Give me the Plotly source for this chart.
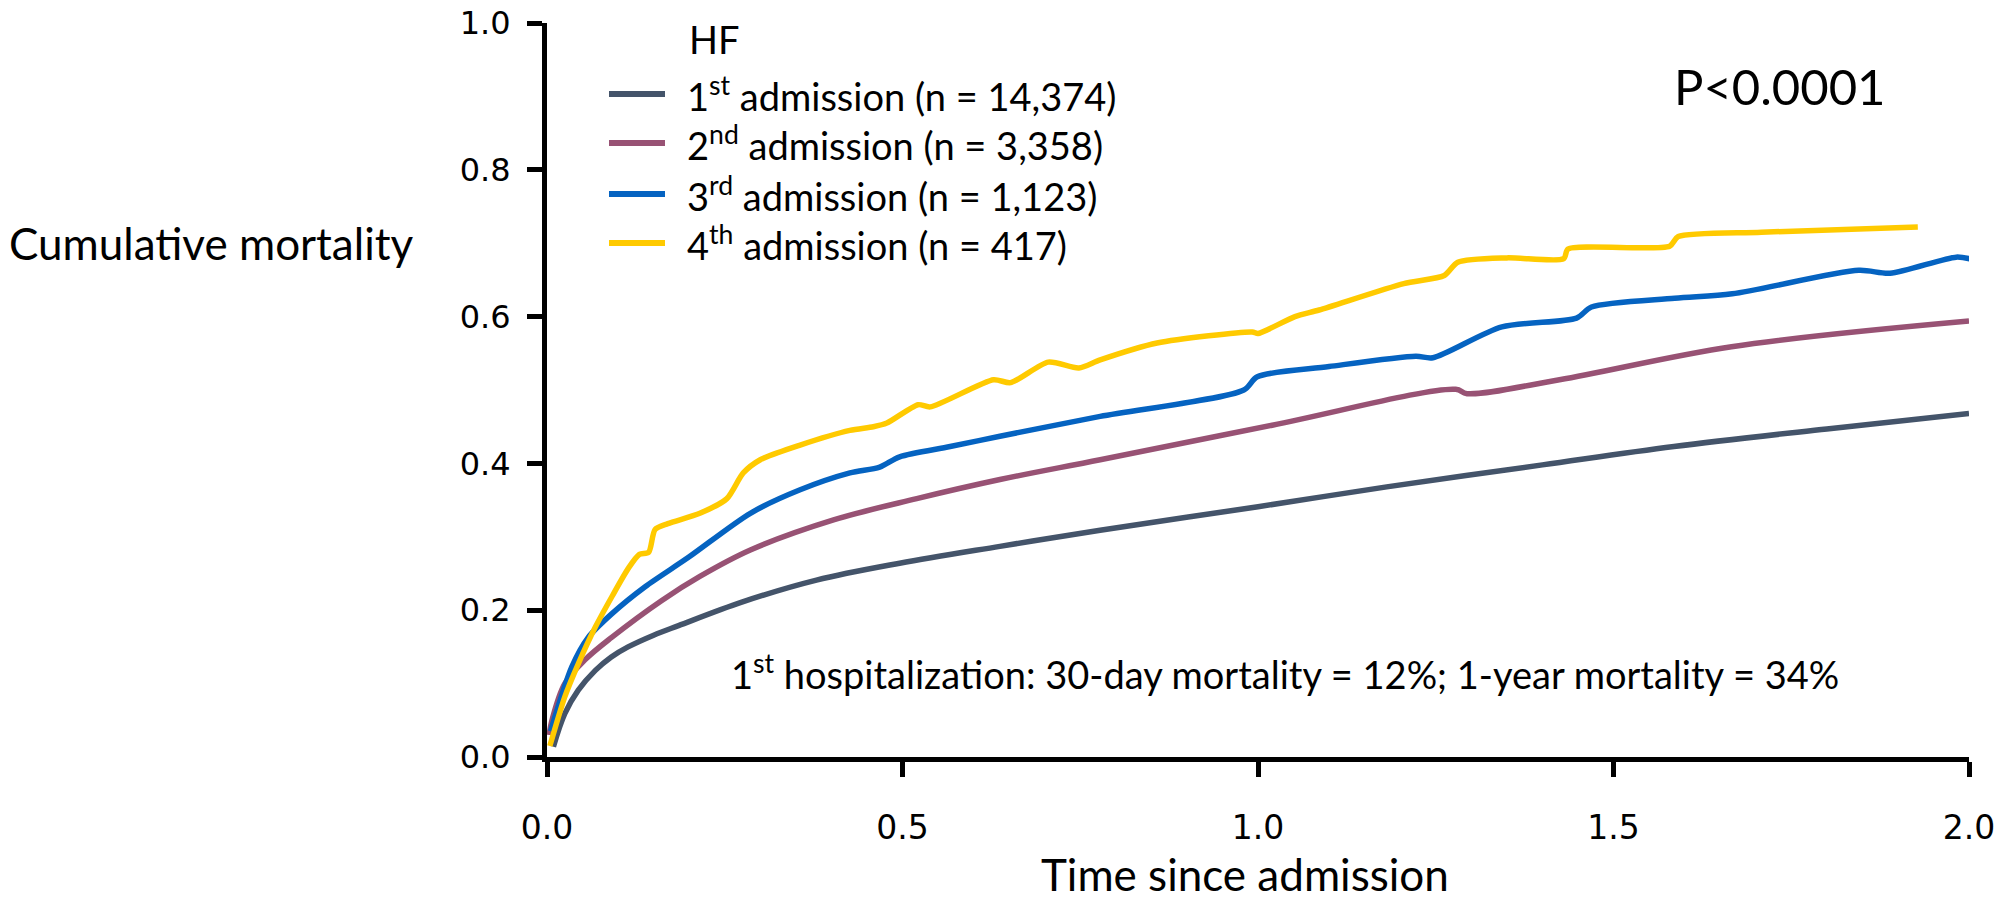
import plotly.graph_objects as go

# ---- data ----
names = ["1<sup>st</sup> admission (n = 14,374)",
         "2<sup>nd</sup> admission (n = 3,358)",
         "3<sup>rd</sup> admission (n = 1,123)",
         "4<sup>th</sup> admission (n = 417)"]
colors = ["#44546A", "#985274", "#0563C1", "#FFCA00"]

x1 = [0.009, 0.025, 0.044, 0.068, 0.09, 0.114, 0.15, 0.185, 0.274, 0.379, 0.496, 0.637, 0.778, 1.0, 1.181, 1.4, 1.585, 1.8, 2.0]
y1 = [0.014, 0.059, 0.091, 0.118, 0.136, 0.150, 0.166, 0.179, 0.211, 0.241, 0.264, 0.287, 0.309, 0.341, 0.368, 0.398, 0.423, 0.447, 0.468]

x2 = [0.003, 0.007, 0.025, 0.053, 0.091, 0.161, 0.215, 0.286, 0.403, 0.52, 0.637, 0.778, 1.02, 1.278, 1.294, 1.424, 1.666, 2.0]
y2 = [0.030, 0.050, 0.100, 0.132, 0.163, 0.213, 0.246, 0.282, 0.323, 0.352, 0.378, 0.405, 0.452, 0.501, 0.495, 0.514, 0.559, 0.594]

x3 = [0.005, 0.035, 0.058, 0.091, 0.138, 0.199, 0.286, 0.356, 0.426, 0.468, 0.496, 0.567, 0.637, 0.778, 0.98, 0.999,
      1.10, 1.222, 1.246, 1.343, 1.448, 1.469, 1.586, 1.667, 1.845, 1.889, 1.982, 2.004]
y3 = [0.035, 0.123, 0.163, 0.195, 0.232, 0.272, 0.332, 0.364, 0.387, 0.395, 0.409, 0.423, 0.437, 0.464, 0.500, 0.518,
      0.532, 0.546, 0.544, 0.586, 0.598, 0.613, 0.625, 0.631, 0.663, 0.659, 0.681, 0.678]

x4 = [0.004, 0.025, 0.044, 0.068, 0.091, 0.115, 0.13, 0.143, 0.152, 0.17, 0.215, 0.253, 0.276, 0.30, 0.356, 0.426,
      0.459, 0.478, 0.522, 0.539, 0.628, 0.652, 0.705, 0.748, 0.778, 0.858, 0.992, 1.0, 1.052, 1.086, 1.205, 1.262,
      1.281, 1.35, 1.43, 1.436, 1.579, 1.591, 1.708, 1.928]
y4 = [0.015, 0.082, 0.127, 0.177, 0.218, 0.258, 0.276, 0.279, 0.310, 0.318, 0.332, 0.352, 0.387, 0.405, 0.425, 0.445,
      0.450, 0.455, 0.480, 0.477, 0.514, 0.510, 0.538, 0.530, 0.541, 0.564, 0.579, 0.577, 0.600, 0.609, 0.645, 0.656,
      0.674, 0.680, 0.679, 0.692, 0.696, 0.709, 0.715, 0.722]

xs = [x1, x2, x3, x4]
ys = [y1, y2, y3, y4]
smooth = [1.0, 1.0, 0.8, 0.7]

x_ticks = [0.0, 0.5, 1.0, 1.5, 2.0]
x_ticklabels = ["0.0", "0.5", "1.0", "1.5", "2.0"]
y_ticks = [0.0, 0.2, 0.4, 0.6, 0.8, 1.0]
y_ticklabels = ["0.0", "0.2", "0.4", "0.6", "0.8", "1.0"]

legend_title = "HF"
p_text = "P&lt;0.0001"
note_text = "1<sup>st</sup> hospitalization: 30-day mortality = 12%; 1-year mortality = 34%"
x_title = "Time since admission"
y_title = "Cumulative mortality"

# ---- layout geometry ----
W, H = 2002, 901
L, R, T, B = 547, 33, 23, 144
PW, PH = W - L - R, H - T - B


def px(xp):
    return (xp - L) / PW


def py(yp):
    return (H - B - yp) / PH


CAL = "Lato, 'Open Sans', sans-serif"
TICKF = "'DejaVu Sans', Verdana, sans-serif"

fig = go.Figure()
for xv, yv, nm, c, sm in zip(xs, ys, names, colors, smooth):
    fig.add_trace(go.Scatter(x=xv, y=yv, mode="lines", name=nm,
                             line=dict(color=c, width=5.5, shape="spline", smoothing=sm),
                             showlegend=False, hoverinfo="skip", cliponaxis=True))

annotations = []
shapes = []
# legend (manual, to match long sample lines)
row_y = [94, 143, 194, 243]
annotations.append(dict(x=px(687), y=py(39), xref="paper", yref="paper", text=legend_title,
                        showarrow=False, xanchor="left", yanchor="middle",
                        font=dict(family=CAL, size=38, color="#000")))
for ry, nm, c in zip(row_y, names, colors):
    shapes.append(dict(type="line", xref="paper", yref="paper", x0=px(609), x1=px(665), y0=py(ry), y1=py(ry),
                       line=dict(color=c, width=6)))
    annotations.append(dict(x=px(685), y=py(ry), xref="paper", yref="paper", text=nm,
                            showarrow=False, xanchor="left", yanchor="middle",
                            font=dict(family=CAL, size=38, color="#000")))

annotations.append(dict(x=px(1672), y=py(86), xref="paper", yref="paper", text=p_text,
                        showarrow=False, xanchor="left", yanchor="middle",
                        font=dict(family=CAL, size=49, color="#000")))
annotations.append(dict(x=px(729), y=py(672), xref="paper", yref="paper", text=note_text,
                        showarrow=False, xanchor="left", yanchor="middle",
                        font=dict(family=CAL, size=38, color="#000")))
annotations.append(dict(x=px(1245), y=py(874), xref="paper", yref="paper", text=x_title,
                        showarrow=False, xanchor="center", yanchor="middle",
                        font=dict(family=CAL, size=44, color="#000")))
annotations.append(dict(x=px(211), y=py(243), xref="paper", yref="paper", text=y_title,
                        showarrow=False, xanchor="center", yanchor="middle",
                        font=dict(family=CAL, size=44, color="#000")))

fig.update_layout(
    width=W, height=H,
    margin=dict(l=L, r=R, t=T, b=B, pad=0, autoexpand=False),
    paper_bgcolor="white", plot_bgcolor="white",
    showlegend=False,
    annotations=annotations, shapes=shapes,
    xaxis=dict(range=[0, 2], tickvals=x_ticks, ticktext=x_ticklabels, automargin=False,
               showline=True, linecolor="black", linewidth=5, mirror=False,
               ticks="outside", ticklen=15, tickwidth=5, tickcolor="black",
               showgrid=False, zeroline=False, ticklabelstandoff=22,
               tickfont=dict(family=TICKF, size=33, color="#000")),
    yaxis=dict(range=[0, 1], tickvals=y_ticks, ticktext=y_ticklabels, automargin=False,
               showline=True, linecolor="black", linewidth=5, mirror=False,
               ticks="outside", ticklen=15, tickwidth=5, tickcolor="black",
               showgrid=False, zeroline=False, ticklabelstandoff=10,
               tickfont=dict(family=TICKF, size=32, color="#000")),
)

fig.write_html("out.html")
